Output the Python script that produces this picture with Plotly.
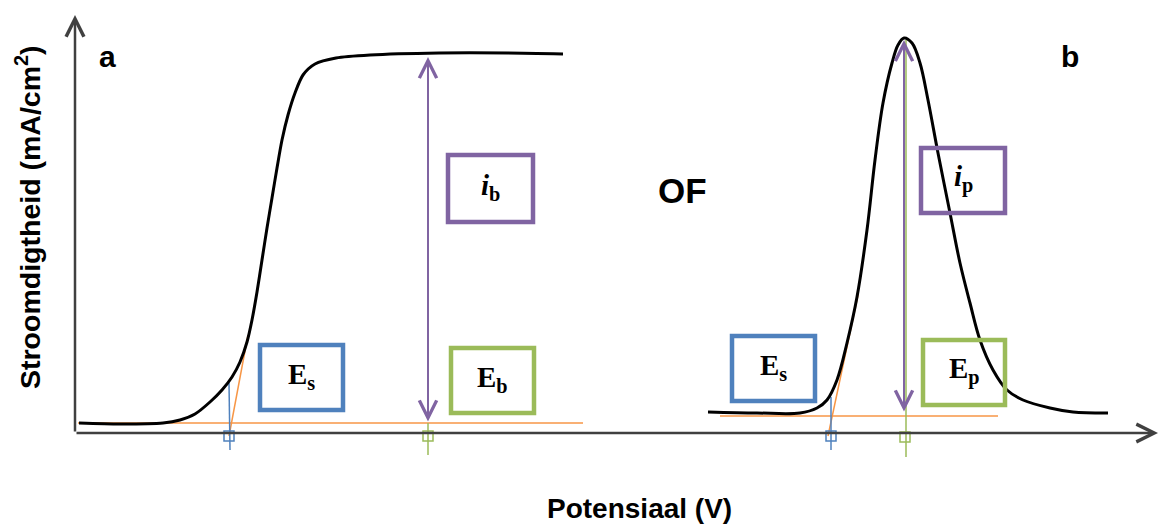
import plotly.graph_objects as go

# ---------------- data (schematic units: potential ~ px, current ~ px above axis) -------------
pot_a = [4, 45, 88, 105, 120, 135, 147, 157, 165, 172, 177, 182, 187, 192, 197, 202, 207,
         213, 220, 228, 240, 261, 295, 364, 433, 488]
cur_a = [10, 9, 10, 13, 19, 31, 43, 56, 71, 91, 113, 141, 173, 205, 235, 265, 293,
         318, 340, 358, 369, 375, 378, 380, 380, 379]

pot_b = [633, 682, 725, 742, 752, 762, 772, 782, 792, 800, 808, 817, 823, 829, 837, 845, 853,
         863, 875, 885, 895, 905, 918, 932, 948, 975, 998, 1033]
cur_b = [21, 20, 20, 25, 33, 53, 90, 136, 203, 273, 330, 370, 388, 395, 390, 370, 333,
         280, 220, 170, 130, 93, 63, 43, 33, 25, 21, 20]

base_a_x = [3, 508]
base_a_y = [10, 10]
base_b_x = [645, 923]
base_b_y = [17, 17]
tan_a_x = [154, 173]
tan_a_y = [-3, 98]
tan_b_x = [753, 783]
tan_b_y = [-3, 138]

Es_a = 154      # onset potential a
Eb = 353        # E_b
Es_b = 756      # onset potential b
Ep = 830        # peak potential
ib_top, ib_bot = 376, 10
ip_top, ip_bot = 393, 20

ORANGE = "#F79646"
BLUE = "#4F81BD"
GREEN = "#9BBB59"
PURPLE = "#8064A2"
AXIS = "#404040"

fig = go.Figure()

def line(x, y, color, width=1.5):
    fig.add_trace(go.Scatter(x=x, y=y, mode="lines", line=dict(color=color, width=width),
                             hoverinfo="skip", showlegend=False))

# orange baselines and tangents
line(base_a_x, base_a_y, ORANGE)
line(base_b_x, base_b_y, ORANGE)
line(tan_a_x, tan_a_y, ORANGE)
line(tan_b_x, tan_b_y, ORANGE)

# blue and green vertical markers
line([Es_a, Es_a + 1], [50, -17], BLUE)
line([Es_b, Es_b], [36, -17], BLUE)
line([Eb, Eb], [ib_bot, -22], GREEN)
line([Ep + 1, Ep + 1], [ip_top, -24], GREEN)

# curves
fig.add_trace(go.Scatter(x=pot_a, y=cur_a, mode="lines",
                         line=dict(color="black", width=3, shape="spline", smoothing=0.8),
                         hoverinfo="skip", showlegend=False))
fig.add_trace(go.Scatter(x=pot_b, y=cur_b, mode="lines",
                         line=dict(color="black", width=3, shape="spline", smoothing=1.0),
                         hoverinfo="skip", showlegend=False))

# square markers on axis
fig.add_trace(go.Scatter(x=[Es_a, Es_b], y=[-3, -3], mode="markers",
                         marker=dict(symbol="square-open", size=10, color=BLUE, line=dict(width=1.5)),
                         hoverinfo="skip", showlegend=False))
fig.add_trace(go.Scatter(x=[Eb, Ep], y=[-3, -4], mode="markers",
                         marker=dict(symbol="square-open", size=10, color=GREEN, line=dict(width=1.5)),
                         hoverinfo="skip", showlegend=False))

# label boxes
boxes = [
    (373, 458, 278, 211, PURPLE, "<b><i>i</i></b><sub><b>b</b></sub>"),
    (185, 268, 88, 23, BLUE, "<b>E</b><sub><b>s</b></sub>"),
    (376, 459, 85, 20, GREEN, "<b>E</b><sub><b>b</b></sub>"),
    (657, 740, 97, 32, BLUE, "<b>E</b><sub><b>s</b></sub>"),
    (848, 930, 93, 28, GREEN, "<b>E</b><sub><b>p</b></sub>"),
    (846, 930, 285, 220, PURPLE, "<b><i>i</i></b><sub><b>p</b></sub>"),
]
for x0, x1, y0, y1, col, txt in boxes:
    fig.add_shape(type="rect", x0=x0, x1=x1, y0=y0, y1=y1, xref="x", yref="y",
                  line=dict(color=col, width=4.5), fillcolor="rgba(0,0,0,0)", layer="above")
    fig.add_annotation(x=(x0 + x1) / 2, y=(y0 + y1) / 2 + 2, xref="x", yref="y", text=txt,
                       showarrow=False, font=dict(family="Liberation Serif, Times New Roman, serif",
                                                  size=29, color="black"),
                       xanchor="center", yanchor="middle")

# axes with arrows
fig.add_annotation(x=0, y=418, ax=0, ay=0, xref="x", yref="y", axref="x", ayref="y",
                   text="", showarrow=True, arrowhead=5, arrowsize=1.4, arrowwidth=2.5,
                   arrowcolor=AXIS)
fig.add_annotation(x=1083, y=0, ax=0, ay=0, xref="x", yref="y", axref="x", ayref="y",
                   text="", showarrow=True, arrowhead=5, arrowsize=1.4, arrowwidth=2.5,
                   arrowcolor=AXIS)

# double-headed purple arrows
for xx, top, bot in [(Eb, ib_top, ib_bot), (Ep - 1, ip_top, ip_bot)]:
    fig.add_annotation(x=xx, y=top, ax=xx, ay=bot, xref="x", yref="y", axref="x", ayref="y",
                       text="", showarrow=True, arrowhead=5, arrowsize=1.7, arrowwidth=2,
                       startarrowhead=5, startarrowsize=1.7, arrowside="end+start",
                       arrowcolor=PURPLE)

SANS = "Liberation Sans, Arial, sans-serif"
fig.add_annotation(x=32, y=377, xref="x", yref="y", text="<b>a</b>", showarrow=False,
                   font=dict(family=SANS, size=30, color="black"))
fig.add_annotation(x=995, y=377, xref="x", yref="y", text="<b>b</b>", showarrow=False,
                   font=dict(family=SANS, size=30, color="black"))
fig.add_annotation(x=607, y=243, xref="x", yref="y", text="<b>OF</b>", showarrow=False,
                   font=dict(family=SANS, size=35, color="black"))
fig.add_annotation(x=564, y=-75, xref="x", yref="y", text="<b>Potensiaal (V)</b>", showarrow=False,
                   font=dict(family=SANS, size=28, color="black"))
fig.add_annotation(x=-47, y=216, xref="x", yref="y", text="<b>Stroomdigtheid (mA/cm<sup>2</sup>)</b>",
                   showarrow=False, textangle=-90,
                   font=dict(family=SANS, size=28.5, color="black"))

fig.update_layout(
    width=1161, height=525,
    margin=dict(l=0, r=0, t=0, b=0),
    paper_bgcolor="white", plot_bgcolor="white",
    xaxis=dict(range=[-75, 1086], visible=False, fixedrange=True),
    yaxis=dict(range=[-92, 433], visible=False, fixedrange=True),
    showlegend=False,
)

fig.write_html("out.html")
